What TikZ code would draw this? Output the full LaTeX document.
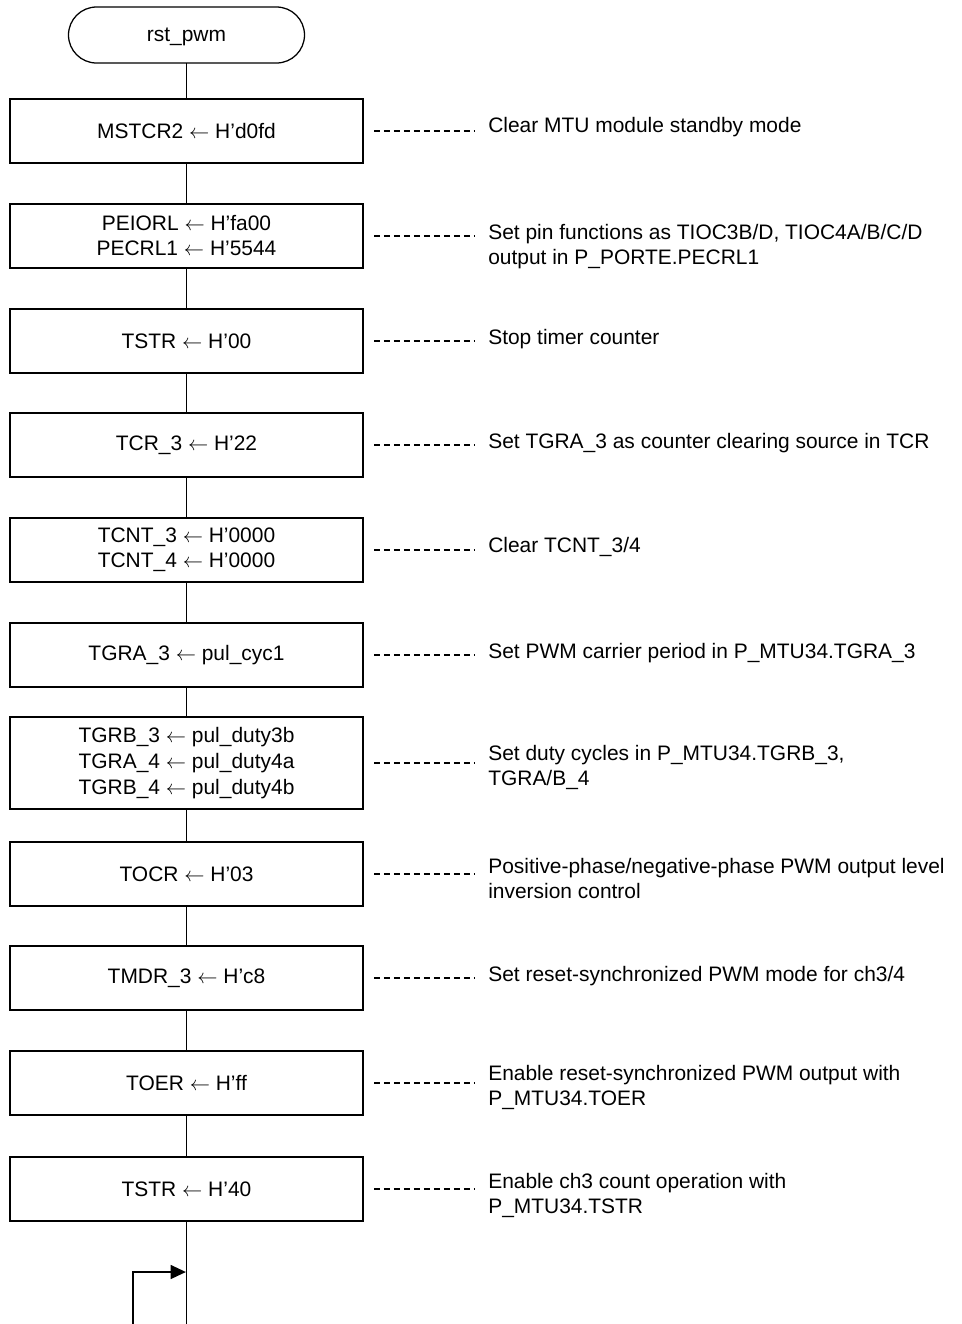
\documentclass[tikz,border=0pt]{standalone}
\usepackage{fontspec}
\setmainfont{Liberation Sans}
\usetikzlibrary{arrows.meta, positioning, calc}
\newcommand{\flowfont}{\fontsize{14.9pt}{17.8pt}\selectfont}
\newcommand{\la}{$\leftarrow$}
\tikzset{
  startbox/.style={rectangle, rounded corners=0.7cm, draw, line width=0.9pt, outer sep=0pt,
                   minimum width=5.9cm, minimum height=1.4cm, text depth=0pt, font=\flowfont},
  procbox/.style={rectangle, draw, line width=0.9pt, outer sep=0pt, minimum width=8.825cm,
                  minimum height=#1, align=center, inner sep=0pt, font=\flowfont},
  procbox/.default=1.6cm,
  note/.style={anchor=north west, align=left, inner sep=0pt, font=\flowfont,
               execute at begin node=\strut},
  leader/.style={line width=0.75pt, dash pattern=on 4.4pt off 2.7pt},
  flow/.style={line width=0.9pt},
  arr/.style={flow, -{Triangle[length=0.38cm, width=0.35cm]}},
}

\begin{document}
\begin{tikzpicture}
  \useasboundingbox (0,0) rectangle (24.05,-33.1);

  % flow chart
  \node[startbox] (start) at (4.6625,-0.875) {rst\_pwm};
  \node[procbox, below=0.9cm of start] (mstcr) {MSTCR2 \la{} H'd0fd};
  \node[procbox, below=1.025cm of mstcr] (peio) {PEIORL \la{} H'fa00\\PECRL1 \la{} H'5544};
  \node[procbox, below=1.025cm of peio] (tstr0) {TSTR \la{} H'00};
  \node[procbox, below=1cm of tstr0] (tcr3) {TCR\_3 \la{} H'22};
  \node[procbox, below=1.025cm of tcr3] (tcnt) {TCNT\_3 \la{} H'0000\\TCNT\_4 \la{} H'0000};
  \node[procbox, below=1.025cm of tcnt] (tgra3) {TGRA\_3 \la{} pul\_cyc1};
  \node[procbox=2.3cm, below=0.75cm of tgra3] (tgrb)
    {TGRB\_3 \la{} pul\_duty3b\\[0.6pt]TGRA\_4 \la{} pul\_duty4a\\[0.6pt]TGRB\_4 \la{} pul\_duty4b};
  \node[procbox, below=0.825cm of tgrb] (tocr) {TOCR \la{} H'03};
  \node[procbox, below=1cm of tocr] (tmdr) {TMDR\_3 \la{} H'c8};
  \node[procbox, below=1.025cm of tmdr] (toer) {TOER \la{} H'ff};
  \node[procbox, below=1.05cm of toer] (tstr40) {TSTR \la{} H'40};

  \draw[flow] (start) -- (mstcr);
  \draw[flow] (mstcr) -- (peio);
  \draw[flow] (peio) -- (tstr0);
  \draw[flow] (tstr0) -- (tcr3);
  \draw[flow] (tcr3) -- (tcnt);
  \draw[flow] (tcnt) -- (tgra3);
  \draw[flow] (tgra3) -- (tgrb);
  \draw[flow] (tgrb) -- (tocr);
  \draw[flow] (tocr) -- (tmdr);
  \draw[flow] (tmdr) -- (toer);
  \draw[flow] (toer) -- (tstr40);

  % loop back at the bottom
  \coordinate (bottom) at (tstr40.south |- 0,-33.1);
  \coordinate (loopin) at (3.325,-33.1);
  \coordinate (join) at (tstr40.south |- 0,-31.8);
  \draw[flow] (tstr40) -- (bottom);
  \draw[arr, shorten >=0.45pt] (loopin) |- (join);

  % comments
  \node[note] (n_mstcr) at ([xshift=3.125cm, yshift=0.4cm]mstcr.east) {Clear MTU module standby mode};
  \node[note] (n_peio) at ([xshift=3.125cm, yshift=0.3cm]peio.east)
    {Set pin functions as TIOC3B/D, TIOC4A/B/C/D\\output in P\_PORTE.PECRL1};
  \node[note] (n_tstr0) at ([xshift=3.125cm, yshift=0.35cm]tstr0.east) {Stop timer counter};
  \node[note] (n_tcr3) at ([xshift=3.125cm, yshift=0.35cm]tcr3.east) {Set TGRA\_3 as counter clearing source in TCR};
  \node[note] (n_tcnt) at ([xshift=3.125cm, yshift=0.375cm]tcnt.east) {Clear TCNT\_3/4};
  \node[note] (n_tgra3) at ([xshift=3.125cm, yshift=0.35cm]tgra3.east) {Set PWM carrier period in P\_MTU34.TGRA\_3};
  \node[note] (n_tgrb) at ([xshift=3.125cm, yshift=0.45cm]tgrb.east)
    {Set duty cycles in P\_MTU34.TGRB\_3,\\TGRA/B\_4};
  \node[note] (n_tocr) at ([xshift=3.125cm, yshift=0.4cm]tocr.east)
    {Positive-phase/negative-phase PWM output level\\inversion control};
  \node[note] (n_tmdr) at ([xshift=3.125cm, yshift=0.35cm]tmdr.east) {Set reset-synchronized PWM mode for ch3/4};
  \node[note] (n_toer) at ([xshift=3.125cm, yshift=0.45cm]toer.east)
    {Enable reset-synchronized PWM output with\\P\_MTU34.TOER};
  \node[note] (n_tstr40) at ([xshift=3.125cm, yshift=0.4cm]tstr40.east)
    {Enable ch3 count operation with\\P\_MTU34.TSTR};

  \draw[leader] ([xshift=0.275cm]mstcr.east) -- ([xshift=-0.325cm]n_mstcr.west |- mstcr.east);
  \draw[leader] ([xshift=0.275cm]peio.east) -- ([xshift=-0.325cm]n_peio.west |- peio.east);
  \draw[leader] ([xshift=0.275cm]tstr0.east) -- ([xshift=-0.325cm]n_tstr0.west |- tstr0.east);
  \draw[leader] ([xshift=0.275cm]tcr3.east) -- ([xshift=-0.325cm]n_tcr3.west |- tcr3.east);
  \draw[leader] ([xshift=0.275cm]tcnt.east) -- ([xshift=-0.325cm]n_tcnt.west |- tcnt.east);
  \draw[leader] ([xshift=0.275cm]tgra3.east) -- ([xshift=-0.325cm]n_tgra3.west |- tgra3.east);
  \draw[leader] ([xshift=0.275cm]tgrb.east) -- ([xshift=-0.325cm]n_tgrb.west |- tgrb.east);
  \draw[leader] ([xshift=0.275cm]tocr.east) -- ([xshift=-0.325cm]n_tocr.west |- tocr.east);
  \draw[leader] ([xshift=0.275cm]tmdr.east) -- ([xshift=-0.325cm]n_tmdr.west |- tmdr.east);
  \draw[leader] ([xshift=0.275cm]toer.east) -- ([xshift=-0.325cm]n_toer.west |- toer.east);
  \draw[leader] ([xshift=0.275cm]tstr40.east) -- ([xshift=-0.325cm]n_tstr40.west |- tstr40.east);
\end{tikzpicture}
\end{document}
